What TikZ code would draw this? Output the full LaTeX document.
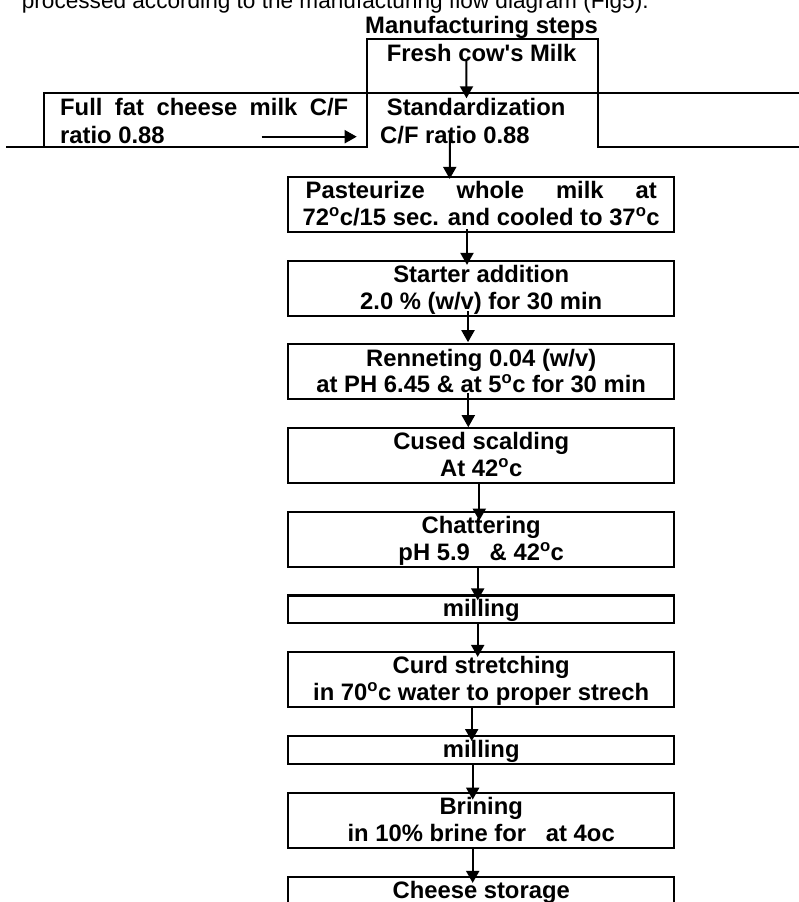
\documentclass[tikz,border=0pt]{standalone}
\usepackage{fontspec}
\setmainfont{Liberation Sans}
\usetikzlibrary{arrows.meta}
\newcommand{\boxfont}{\fontsize{23.8}{26.5}\selectfont\bfseries}
\newcommand{\introfont}{\fontsize{22.6}{26}\selectfont}
\newcommand{\lstrut}{\rule[-5pt]{0pt}{25.5pt}}
\newcommand{\ordo}{\textsuperscript{o}}
\tikzstyle{stepbox}=[rectangle,draw,line width=2.2pt,minimum width=385.7pt,minimum height=55pt,inner sep=0pt,align=center,font=\boxfont]
\tikzstyle{millbox}=[stepbox,minimum height=27.5pt]
\tikzstyle{cell}=[inner sep=0pt,align=left,font=\boxfont]
\tikzstyle{tableline}=[draw,line width=2.2pt,line cap=rect]
\tikzstyle{edge}=[draw,line width=2pt,-{Triangle[length=12pt,width=13pt]}]

\begin{document}
\begin{tikzpicture}[x=1pt,y=-1pt]
    \useasboundingbox (0,0) rectangle (798,902);

    \node[anchor=base west,inner sep=0pt,font=\introfont] (intro) at (21.7,8.3) {processed according to the manufacturing flow diagram (Fig5).};
    \node[cell,anchor=base west] (title) at (365,33.3) {Manufacturing steps};

    % table at the top
    \path[tableline] (366.7,146.7) -- (366.7,39) -- (598,39) -- (598,146.7) -- (798,146.7);
    \path[tableline] (44.3,146.7) -- (44.3,93.3) -- (798,93.3);
    \path[tableline] (6.7,146.7) -- (366.7,146.7);

    \node[cell,anchor=north west] (fresh) at (386.7,41) {\lstrut Fresh cow\textquotesingle s Milk};
    \node[cell,anchor=north west] (fullfat) at (60,95.2) {\makebox[288pt][s]{\lstrut Full fat cheese milk C/F}\\[1pt]ratio 0.88\lstrut};
    \node[cell,anchor=north west] (stand) at (380,95.2) {\hspace*{6.7pt}\lstrut Standardization\\[1pt]C/F ratio 0.88\lstrut};

    % processing steps
    \node[stepbox] (past) at (481.2,204.2) {\makebox[351pt][s]{\lstrut Pasteurize whole milk at}\\72\ordo c/15 sec. and cooled to 37\ordo c\lstrut};
    \node[stepbox] (start) at (481.2,288.2) {\lstrut Starter addition\\2.0 \% (w/v) for 30 min\lstrut};
    \node[stepbox] (renn) at (481.2,371.8) {\lstrut Renneting 0.04 (w/v)\\at PH 6.45 \& at 5\ordo c for 30 min\lstrut};
    \node[stepbox] (scald) at (481.2,455.2) {\lstrut Cused scalding\\At 42\ordo c\lstrut};
    \node[stepbox] (chat) at (481.2,539.2) {\lstrut Chattering\\pH 5.9~~~\& 42\ordo c\lstrut};
    \node[millbox] (mill) at (481.2,609.2) {\lstrut milling};
    \node[stepbox] (curd) at (481.2,679.2) {\lstrut Curd stretching\\in 70\ordo c water to proper strech\lstrut};
    \node[millbox] (milltwo) at (481.2,749.9) {\lstrut milling};
    \node[stepbox] (brine) at (481.2,820.2) {\lstrut Brining\\in 10\% brine for~~~at 4oc\lstrut};
    \node[stepbox] (store) at (481.2,904.2) {\lstrut Cheese storage\\\lstrut};

    % arrows
    \coordinate (ffa) at (261.7,136.7);
    \path[edge] (ffa) -- ([xshift=-23.3pt]ffa -| stand.west);
    \path[edge] ([xshift=-15.2pt,yshift=6.5pt]fresh.south) -- ([xshift=-6.3pt,yshift=-3.1pt]stand.north);
    \path[edge] ([xshift=-22.9pt,yshift=15.2pt]stand.south) -- ([xshift=-31.5pt,yshift=-3.3pt]past.north);

    \foreach \source/\dest/\dx/\ys/\ye in {past/start/-14.2/3.7/-5.3, start/renn/-13.2/5.7/1, renn/scald/-12.9/7.6/-0.6,
        scald/chat/-1.9/0/-10, chat/mill/-3.5/0/-6, mill/curd/-3.5/0/-6.3, curd/milltwo/-9.5/0/-6,
        milltwo/brine/-8.5/0/-8, brine/store/-8.5/0/-7.3}
        \path[edge] ([xshift=\dx pt,yshift=\ys pt]\source.south) -- ([xshift=\dx pt,yshift=\ye pt]\dest.north);

\end{tikzpicture}
\end{document}
